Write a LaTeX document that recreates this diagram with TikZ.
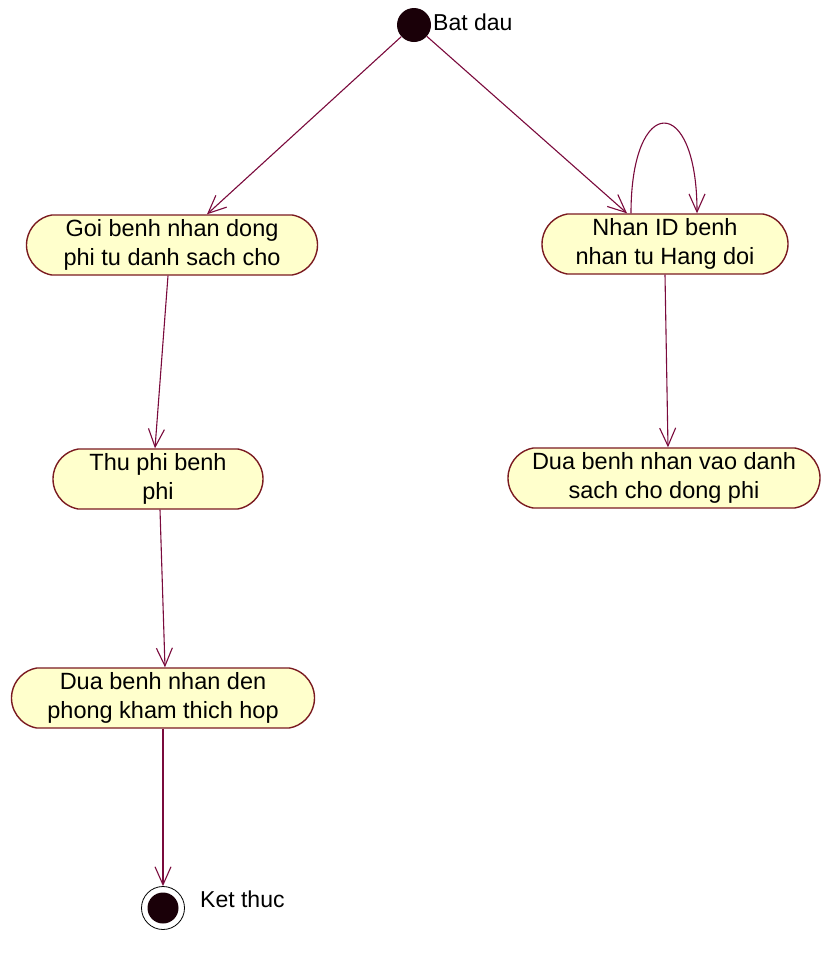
\documentclass[tikz,border=0pt]{standalone}
\usepackage{fontspec}
\setmainfont{Liberation Sans}
\usetikzlibrary{arrows.meta,shapes.misc}
\definecolor{flow}{HTML}{7A0A3C}
\definecolor{actfill}{HTML}{FFFFCC}
\definecolor{actedge}{HTML}{7A1A20}
\definecolor{dot}{HTML}{1A0008}
\tikzset{
  x=1pt, y=-1pt,
  activity/.style={rounded rectangle, rounded rectangle arc length=160,
    draw=actedge, line width=1.4pt, fill=actfill, align=center,
    inner sep=0pt, minimum height=60pt,
    font=\fontsize{23.5}{29}\selectfont},
  flowline/.style={draw=flow, line width=1.1pt,
    -{Straight Barb[length=18pt,width=16pt,line width=1.1pt]}},
  statelabel/.style={anchor=west, font=\fontsize{23}{27}\selectfont, inner sep=0pt}
}
\begin{document}
\begin{tikzpicture}
\useasboundingbox (0,0) rectangle (822,959);

% initial and final states
\node[circle, fill=dot, minimum size=34pt, inner sep=0pt] (start) at (414,25) {};
\node[statelabel] (startlbl) at (433,22) {Bat dau};
\node[circle, draw=black, line width=0.8pt, fill=white, minimum size=43pt, inner sep=0pt] (end) at (163,908) {};
\node[circle, fill=dot, minimum size=31pt, inner sep=0pt] (endcore) at (163,908) {};
\node[statelabel] (endlbl) at (200,899) {Ket thuc};

% activities
\node[activity, minimum width=291pt] (call) at (172,245) {Goi benh nhan dong\\phi tu danh sach cho};
\node[activity, minimum width=246pt] (recv) at (665,244) {Nhan ID benh\\nhan tu Hang doi};
\node[activity, minimum width=210pt] (fee) at (158,479) {Thu phi benh\\phi};
\node[activity, minimum width=312pt] (queue) at (664,478) {Dua benh nhan vao danh\\sach cho dong phi};
\node[activity, minimum width=303pt] (room) at (163,698) {Dua benh nhan den\\phong kham thich hop};

% transitions
\draw[flowline] (start) -- ([xshift=35pt]call.north);
\draw[flowline] (start) -- ([xshift=-38pt]recv.north);
\draw[flowline] ([xshift=-34pt]recv.north) .. controls +(0,-120) and +(0,-120) .. ([xshift=32pt]recv.north);
\draw[flowline] ([xshift=-4pt]call.south) -- ([xshift=-3pt]fee.north);
\draw[flowline] (recv.south) -- ([xshift=4pt]queue.north);
\draw[flowline] ([xshift=2pt]fee.south) -- ([xshift=2pt]room.north);
\draw[flowline] (room.south) -- (end);
\end{tikzpicture}
\end{document}
